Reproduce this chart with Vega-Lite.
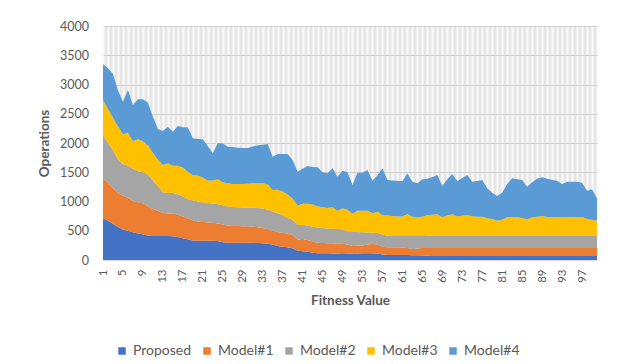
{
  "$schema": "https://vega.github.io/schema/vega-lite/v6.json",
  "width": 494,
  "height": 234,
  "autosize": {"type": "none"},
  "padding": {"left": 103, "top": 26, "right": 23, "bottom": 104},
  "background": "white",
  "config": {
    "font": "Lato",
    "view": {"fill": "#e6e6e6", "stroke": null}
  },
  "data": {
    "values": [
      {"fitness": 1, "Proposed": 712, "Model#1": 684, "Model#2": 734, "Model#3": 604, "Model#4": 611},
      {"fitness": 2, "Proposed": 670, "Model#1": 650, "Model#2": 685, "Model#3": 575, "Model#4": 696},
      {"fitness": 3, "Proposed": 620, "Model#1": 610, "Model#2": 640, "Model#3": 560, "Model#4": 750},
      {"fitness": 4, "Proposed": 565, "Model#1": 580, "Model#2": 575, "Model#3": 560, "Model#4": 620},
      {"fitness": 5, "Proposed": 520, "Model#1": 580, "Model#2": 540, "Model#3": 510, "Model#4": 555},
      {"fitness": 6, "Proposed": 495, "Model#1": 565, "Model#2": 550, "Model#3": 566, "Model#4": 729},
      {"fitness": 7, "Proposed": 475, "Model#1": 535, "Model#2": 550, "Model#3": 470, "Model#4": 619},
      {"fitness": 8, "Proposed": 455, "Model#1": 530, "Model#2": 535, "Model#3": 543, "Model#4": 683},
      {"fitness": 9, "Proposed": 440, "Model#1": 529, "Model#2": 531, "Model#3": 530, "Model#4": 716},
      {"fitness": 10, "Proposed": 415, "Model#1": 505, "Model#2": 540, "Model#3": 500, "Model#4": 730},
      {"fitness": 11, "Proposed": 410, "Model#1": 460, "Model#2": 490, "Model#3": 470, "Model#4": 620},
      {"fitness": 12, "Proposed": 410, "Model#1": 430, "Model#2": 420, "Model#3": 460, "Model#4": 520},
      {"fitness": 13, "Proposed": 410, "Model#1": 395, "Model#2": 355, "Model#3": 464, "Model#4": 581},
      {"fitness": 14, "Proposed": 410, "Model#1": 387, "Model#2": 348, "Model#3": 507, "Model#4": 626},
      {"fitness": 15, "Proposed": 405, "Model#1": 392, "Model#2": 353, "Model#3": 460, "Model#4": 583},
      {"fitness": 16, "Proposed": 395, "Model#1": 380, "Model#2": 345, "Model#3": 490, "Model#4": 680},
      {"fitness": 17, "Proposed": 370, "Model#1": 375, "Model#2": 345, "Model#3": 490, "Model#4": 690},
      {"fitness": 18, "Proposed": 355, "Model#1": 355, "Model#2": 330, "Model#3": 470, "Model#4": 758},
      {"fitness": 19, "Proposed": 335, "Model#1": 345, "Model#2": 340, "Model#3": 430, "Model#4": 630},
      {"fitness": 20, "Proposed": 330, "Model#1": 325, "Model#2": 345, "Model#3": 440, "Model#4": 630},
      {"fitness": 21, "Proposed": 330, "Model#1": 320, "Model#2": 335, "Model#3": 425, "Model#4": 653},
      {"fitness": 22, "Proposed": 330, "Model#1": 315, "Model#2": 330, "Model#3": 385, "Model#4": 590},
      {"fitness": 23, "Proposed": 330, "Model#1": 305, "Model#2": 330, "Model#3": 395, "Model#4": 463},
      {"fitness": 24, "Proposed": 325, "Model#1": 300, "Model#2": 330, "Model#3": 425, "Model#4": 614},
      {"fitness": 25, "Proposed": 305, "Model#1": 300, "Model#2": 330, "Model#3": 395, "Model#4": 660},
      {"fitness": 26, "Proposed": 296, "Model#1": 289, "Model#2": 330, "Model#3": 395, "Model#4": 626},
      {"fitness": 27, "Proposed": 296, "Model#1": 285, "Model#2": 324, "Model#3": 395, "Model#4": 630},
      {"fitness": 28, "Proposed": 296, "Model#1": 284, "Model#2": 320, "Model#3": 400, "Model#4": 620},
      {"fitness": 29, "Proposed": 296, "Model#1": 282, "Model#2": 320, "Model#3": 402, "Model#4": 615},
      {"fitness": 30, "Proposed": 296, "Model#1": 279, "Model#2": 320, "Model#3": 410, "Model#4": 609},
      {"fitness": 31, "Proposed": 296, "Model#1": 274, "Model#2": 323, "Model#3": 417, "Model#4": 630},
      {"fitness": 32, "Proposed": 290, "Model#1": 270, "Model#2": 330, "Model#3": 420, "Model#4": 650},
      {"fitness": 33, "Proposed": 285, "Model#1": 260, "Model#2": 335, "Model#3": 430, "Model#4": 660},
      {"fitness": 34, "Proposed": 278, "Model#1": 252, "Model#2": 330, "Model#3": 430, "Model#4": 692},
      {"fitness": 35, "Proposed": 265, "Model#1": 235, "Model#2": 330, "Model#3": 366, "Model#4": 570},
      {"fitness": 36, "Proposed": 240, "Model#1": 240, "Model#2": 320, "Model#3": 400, "Model#4": 611},
      {"fitness": 37, "Proposed": 228, "Model#1": 239, "Model#2": 303, "Model#3": 400, "Model#4": 641},
      {"fitness": 38, "Proposed": 217, "Model#1": 233, "Model#2": 270, "Model#3": 400, "Model#4": 691},
      {"fitness": 39, "Proposed": 200, "Model#1": 230, "Model#2": 260, "Model#3": 360, "Model#4": 659},
      {"fitness": 40, "Proposed": 160, "Model#1": 190, "Model#2": 250, "Model#3": 330, "Model#4": 579},
      {"fitness": 41, "Proposed": 150, "Model#1": 210, "Model#2": 240, "Model#3": 360, "Model#4": 600},
      {"fitness": 42, "Proposed": 142, "Model#1": 198, "Model#2": 250, "Model#3": 370, "Model#4": 647},
      {"fitness": 43, "Proposed": 125, "Model#1": 185, "Model#2": 260, "Model#3": 380, "Model#4": 640},
      {"fitness": 44, "Proposed": 114, "Model#1": 182, "Model#2": 259, "Model#3": 365, "Model#4": 664},
      {"fitness": 45, "Proposed": 114, "Model#1": 176, "Model#2": 255, "Model#3": 355, "Model#4": 600},
      {"fitness": 46, "Proposed": 114, "Model#1": 174, "Model#2": 252, "Model#3": 350, "Model#4": 591},
      {"fitness": 47, "Proposed": 112, "Model#1": 173, "Model#2": 250, "Model#3": 365, "Model#4": 667},
      {"fitness": 48, "Proposed": 112, "Model#1": 170, "Model#2": 248, "Model#3": 313, "Model#4": 581},
      {"fitness": 49, "Proposed": 114, "Model#1": 164, "Model#2": 247, "Model#3": 358, "Model#4": 644},
      {"fitness": 50, "Proposed": 112, "Model#1": 153, "Model#2": 225, "Model#3": 370, "Model#4": 640},
      {"fitness": 51, "Proposed": 110, "Model#1": 130, "Model#2": 244, "Model#3": 306, "Model#4": 492},
      {"fitness": 52, "Proposed": 112, "Model#1": 133, "Model#2": 235, "Model#3": 363, "Model#4": 649},
      {"fitness": 53, "Proposed": 114, "Model#1": 136, "Model#2": 226, "Model#3": 364, "Model#4": 652},
      {"fitness": 54, "Proposed": 114, "Model#1": 151, "Model#2": 205, "Model#3": 370, "Model#4": 698},
      {"fitness": 55, "Proposed": 114, "Model#1": 159, "Model#2": 194, "Model#3": 333, "Model#4": 556},
      {"fitness": 56, "Proposed": 110, "Model#1": 155, "Model#2": 195, "Model#3": 366, "Model#4": 624},
      {"fitness": 57, "Proposed": 95, "Model#1": 130, "Model#2": 205, "Model#3": 340, "Model#4": 797},
      {"fitness": 58, "Proposed": 85, "Model#1": 132, "Model#2": 203, "Model#3": 340, "Model#4": 607},
      {"fitness": 59, "Proposed": 85, "Model#1": 132, "Model#2": 208, "Model#3": 327, "Model#4": 608},
      {"fitness": 60, "Proposed": 85, "Model#1": 132, "Model#2": 208, "Model#3": 320, "Model#4": 611},
      {"fitness": 61, "Proposed": 85, "Model#1": 130, "Model#2": 210, "Model#3": 320, "Model#4": 600},
      {"fitness": 62, "Proposed": 85, "Model#1": 120, "Model#2": 220, "Model#3": 361, "Model#4": 695},
      {"fitness": 63, "Proposed": 82, "Model#1": 108, "Model#2": 235, "Model#3": 315, "Model#4": 599},
      {"fitness": 64, "Proposed": 80, "Model#1": 115, "Model#2": 230, "Model#3": 304, "Model#4": 581},
      {"fitness": 65, "Proposed": 75, "Model#1": 130, "Model#2": 220, "Model#3": 315, "Model#4": 639},
      {"fitness": 66, "Proposed": 72, "Model#1": 133, "Model#2": 220, "Model#3": 344, "Model#4": 621},
      {"fitness": 67, "Proposed": 70, "Model#1": 135, "Model#2": 205, "Model#3": 365, "Model#4": 645},
      {"fitness": 68, "Proposed": 70, "Model#1": 135, "Model#2": 205, "Model#3": 370, "Model#4": 673},
      {"fitness": 69, "Proposed": 70, "Model#1": 135, "Model#2": 205, "Model#3": 319, "Model#4": 536},
      {"fitness": 70, "Proposed": 70, "Model#1": 135, "Model#2": 205, "Model#3": 350, "Model#4": 620},
      {"fitness": 71, "Proposed": 70, "Model#1": 135, "Model#2": 205, "Model#3": 370, "Model#4": 690},
      {"fitness": 72, "Proposed": 70, "Model#1": 135, "Model#2": 205, "Model#3": 335, "Model#4": 605},
      {"fitness": 73, "Proposed": 70, "Model#1": 135, "Model#2": 205, "Model#3": 345, "Model#4": 645},
      {"fitness": 74, "Proposed": 70, "Model#1": 135, "Model#2": 205, "Model#3": 359, "Model#4": 684},
      {"fitness": 75, "Proposed": 70, "Model#1": 135, "Model#2": 205, "Model#3": 340, "Model#4": 589},
      {"fitness": 76, "Proposed": 70, "Model#1": 135, "Model#2": 205, "Model#3": 330, "Model#4": 610},
      {"fitness": 77, "Proposed": 70, "Model#1": 135, "Model#2": 205, "Model#3": 330, "Model#4": 627},
      {"fitness": 78, "Proposed": 70, "Model#1": 135, "Model#2": 205, "Model#3": 302, "Model#4": 513},
      {"fitness": 79, "Proposed": 70, "Model#1": 135, "Model#2": 205, "Model#3": 290, "Model#4": 450},
      {"fitness": 80, "Proposed": 70, "Model#1": 135, "Model#2": 205, "Model#3": 262, "Model#4": 422},
      {"fitness": 81, "Proposed": 70, "Model#1": 135, "Model#2": 205, "Model#3": 280, "Model#4": 460},
      {"fitness": 82, "Proposed": 70, "Model#1": 135, "Model#2": 205, "Model#3": 319, "Model#4": 571},
      {"fitness": 83, "Proposed": 70, "Model#1": 135, "Model#2": 205, "Model#3": 325, "Model#4": 661},
      {"fitness": 84, "Proposed": 70, "Model#1": 135, "Model#2": 205, "Model#3": 319, "Model#4": 651},
      {"fitness": 85, "Proposed": 70, "Model#1": 135, "Model#2": 205, "Model#3": 310, "Model#4": 647},
      {"fitness": 86, "Proposed": 70, "Model#1": 135, "Model#2": 205, "Model#3": 285, "Model#4": 558},
      {"fitness": 87, "Proposed": 70, "Model#1": 135, "Model#2": 205, "Model#3": 315, "Model#4": 605},
      {"fitness": 88, "Proposed": 70, "Model#1": 135, "Model#2": 205, "Model#3": 330, "Model#4": 650},
      {"fitness": 89, "Proposed": 70, "Model#1": 135, "Model#2": 205, "Model#3": 342, "Model#4": 661},
      {"fitness": 90, "Proposed": 70, "Model#1": 135, "Model#2": 205, "Model#3": 325, "Model#4": 655},
      {"fitness": 91, "Proposed": 70, "Model#1": 135, "Model#2": 205, "Model#3": 319, "Model#4": 638},
      {"fitness": 92, "Proposed": 70, "Model#1": 135, "Model#2": 205, "Model#3": 320, "Model#4": 626},
      {"fitness": 93, "Proposed": 70, "Model#1": 135, "Model#2": 205, "Model#3": 319, "Model#4": 570},
      {"fitness": 94, "Proposed": 70, "Model#1": 135, "Model#2": 205, "Model#3": 322, "Model#4": 607},
      {"fitness": 95, "Proposed": 70, "Model#1": 135, "Model#2": 205, "Model#3": 325, "Model#4": 604},
      {"fitness": 96, "Proposed": 70, "Model#1": 135, "Model#2": 205, "Model#3": 325, "Model#4": 604},
      {"fitness": 97, "Proposed": 70, "Model#1": 135, "Model#2": 205, "Model#3": 325, "Model#4": 587},
      {"fitness": 98, "Proposed": 70, "Model#1": 135, "Model#2": 205, "Model#3": 290, "Model#4": 485},
      {"fitness": 99, "Proposed": 70, "Model#1": 135, "Model#2": 205, "Model#3": 280, "Model#4": 518},
      {"fitness": 100, "Proposed": 70, "Model#1": 135, "Model#2": 205, "Model#3": 262, "Model#4": 382}
    ]
  },
  "transform": [
    {"fold": ["Proposed", "Model#1", "Model#2", "Model#3", "Model#4"], "as": ["model", "ops"]},
    {"calculate": "indexof(['Proposed','Model#1','Model#2','Model#3','Model#4'], datum.model)", "as": "rank"}
  ],
  "mark": {"type": "area", "interpolate": "linear"},
  "encoding": {
    "x": {
      "field": "fitness",
      "type": "quantitative",
      "scale": {"domain": [1, 100], "nice": false, "zero": false},
      "axis": {
        "title": "Fitness Value",
        "titleFont": "Lato",
        "titleFontSize": 13.5,
        "titleFontWeight": "bold",
        "titleColor": "#595959",
        "titleBaseline": "middle",
        "titleY": 40,
        "tickCount": 100,
        "labelExpr": "(datum.value - 1) % 4 == 0 ? datum.label : ''",
        "labelAngle": -90,
        "labelFontSize": 11.5,
        "labelColor": "#595959",
        "labelPadding": 9,
        "labelOverlap": false,
        "labelFlush": false,
        "labelBound": false,
        "ticks": false,
        "tickSize": 0,
        "domain": true,
        "domainColor": "#d9d9d9",
        "domainWidth": 1,
        "grid": true,
        "gridColor": "#fafafa",
        "gridWidth": 2
      }
    },
    "y": {
      "field": "ops",
      "type": "quantitative",
      "stack": "zero",
      "scale": {"domain": [0, 4000], "nice": false},
      "axis": {
        "title": "Operations",
        "titleFontSize": 13.5,
        "titleFontWeight": "bold",
        "titleColor": "#595959",
        "titlePadding": 8,
        "values": [0, 500, 1000, 1500, 2000, 2500, 3000, 3500, 4000],
        "format": "d",
        "labelFontSize": 12.5,
        "labelColor": "#595959",
        "labelPadding": 14.5,
        "ticks": false,
        "tickSize": 0,
        "domain": false,
        "grid": true,
        "gridColor": "#d0d0d0",
        "gridWidth": 1
      }
    },
    "color": {
      "field": "model",
      "type": "nominal",
      "scale": {
        "domain": ["Proposed", "Model#1", "Model#2", "Model#3", "Model#4"],
        "range": ["#4472C4", "#ED7D31", "#A5A5A5", "#FFC000", "#5B9BD5"]
      },
      "legend": {
        "orient": "none",
        "legendX": 12,
        "legendY": 318,
        "direction": "horizontal",
        "title": null,
        "symbolType": "square",
        "symbolSize": 56,
        "symbolStrokeWidth": 0,
        "labelFontSize": 14,
        "labelColor": "#595959",
        "labelOffset": 4,
        "columnPadding": 8
      }
    },
    "order": {"field": "rank", "type": "quantitative"}
  }
}
